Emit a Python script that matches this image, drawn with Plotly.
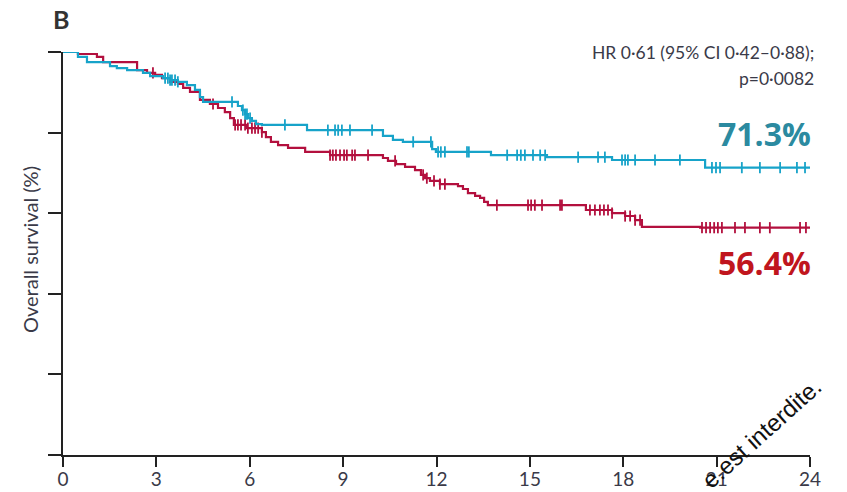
import plotly.graph_objects as go

# ---- data (months, overall survival %) ----
cyan_t = [0, 0.48, 0.77, 1.51, 1.73, 2.06, 2.57, 2.80, 3.21, 3.44, 3.69, 3.98, 4.24, 4.40, 4.50,
          5.62, 5.75, 5.85, 5.94, 6.07, 6.20, 6.39, 7.84, 10.28, 10.60, 10.92, 11.86, 11.98,
          13.75, 15.55, 17.64, 20.63, 24.0]
cyan_s = [100, 98.8, 97.5, 96.5, 96.0, 95.5, 94.8, 94.0, 93.5, 93.0, 92.6, 91.8, 90.6, 88.8, 87.6,
          86.6, 85.6, 84.6, 83.6, 82.9, 82.1, 81.9, 80.6, 79.2, 78.2, 77.7, 75.9, 75.2,
          74.4, 73.9, 73.2, 71.3, 71.3]

red_t = [0, 0.48, 1.09, 1.29, 2.38, 2.70, 2.96, 3.18, 3.44, 3.69, 3.86, 4.08, 4.40, 4.72, 4.98,
         5.20, 5.37, 5.49, 5.91, 6.39, 6.52, 6.68, 6.91, 7.23, 7.78, 8.58, 10.28, 10.44, 10.70,
         10.99, 11.31, 11.50, 11.63, 11.79, 12.11, 12.69, 12.85, 13.01, 13.24, 13.40, 13.53,
         13.65, 16.80, 17.64, 18.06, 18.38, 18.60, 20.47, 24.0]
red_s = [100, 99.5, 98.8, 97.5, 95.5, 94.8, 94.3, 93.5, 92.6, 92.1, 91.1, 90.1, 88.1, 87.1, 86.1,
         85.1, 83.6, 81.9, 81.1, 80.1, 78.9, 77.7, 76.9, 76.2, 75.2, 74.4, 73.7, 73.0, 72.2,
         71.5, 70.7, 69.5, 68.7, 68.0, 67.2, 66.7, 66.0, 65.0, 64.3, 63.8, 62.8,
         62.0, 60.8, 60.0, 59.3, 58.3, 56.6, 56.4, 56.4]

cyan_censor = [3.28, 3.37, 3.44, 3.50, 3.60, 3.69, 5.43, 5.78, 5.85, 5.91, 6.01, 7.13, 8.51, 8.74,
               8.84, 8.96, 9.22, 9.93, 11.25, 11.82, 12.05, 12.14, 12.27, 12.98, 13.04, 14.27,
               14.59, 14.71, 14.84, 15.10, 15.33, 15.49, 16.55, 17.19, 17.41, 17.96, 18.06,
               18.15, 18.38, 19.02, 19.82, 20.85, 20.98, 21.11, 21.81, 22.39, 23.04, 23.58, 23.84]
red_censor = [2.89, 4.82, 5.53, 5.62, 5.72, 5.85, 5.94, 6.07, 6.17, 6.27, 6.39, 8.58, 8.67, 8.77,
              8.90, 9.03, 9.12, 9.29, 9.38, 9.80, 10.67, 11.57, 11.69, 11.92, 12.11, 12.27,
              13.94, 14.94, 15.04, 15.16, 15.39, 15.97, 16.03, 16.93, 17.09, 17.25, 17.38,
              17.51, 17.64, 18.06, 18.22, 18.38, 18.54, 20.53, 20.66, 20.79, 20.92, 21.04,
              21.17, 21.59, 21.91, 22.39, 22.71, 23.68, 23.87]

x_ticks = [0, 3, 6, 9, 12, 15, 18, 21, 24]
y_ticks = [0, 20, 40, 60, 80, 100]

CYAN = "#17a3c9"
RED = "#b3103e"


def step_at(ts, ss, t):
    v = ss[0]
    for ti, si in zip(ts, ss):
        if ti <= t:
            v = si
        else:
            break
    return v


fig = go.Figure()
for ts, ss, cens, col in [(red_t, red_s, red_censor, RED), (cyan_t, cyan_s, cyan_censor, CYAN)]:
    fig.add_trace(go.Scatter(x=ts, y=ss, mode="lines", line=dict(color=col, width=2.2, shape="hv"),
                             cliponaxis=False, showlegend=False, hoverinfo="skip"))
    fig.add_trace(go.Scatter(x=cens, y=[step_at(ts, ss, c) for c in cens], mode="markers",
                             marker=dict(symbol="line-ns", size=8, line=dict(color=col, width=1.8)),
                             cliponaxis=False, showlegend=False, hoverinfo="skip"))

FONT = "Lato, Open Sans, sans-serif"
TXT = "#3a3a48"

fig.update_layout(
    width=847, height=492,
    margin=dict(l=63, r=37, t=52, b=37),
    paper_bgcolor="white", plot_bgcolor="white",
    font=dict(family=FONT, color=TXT, size=16),
    xaxis=dict(range=[0, 24], tickvals=x_ticks, ticktext=[str(v) for v in x_ticks],
               ticks="outside", ticklen=10, tickwidth=2, tickcolor="#222",
               showline=True, linecolor="#222", linewidth=2, showgrid=False, zeroline=False,
               automargin=False, ticklabelstandoff=-4,
               tickfont=dict(size=19, color=TXT, family=FONT)),
    yaxis=dict(range=[0, 100], tickvals=y_ticks, showticklabels=False,
               ticks="outside", ticklen=13, tickwidth=2, tickcolor="#222",
               showline=True, linecolor="#222", linewidth=2, showgrid=False, zeroline=False,
               automargin=False),
)

# x-axis line extension to left
fig.add_shape(type="line", xref="x domain", yref="y", x0=-0.018, x1=0, y0=0, y1=0,
              line=dict(color="#222", width=2))


def px(xp):
    return (xp - 63) / 747


def py(yp):
    return (455 - yp) / 403


fig.add_annotation(xref="paper", yref="paper", x=px(30), y=py(250), xanchor="center", yanchor="middle",
                   text="Overall survival (%)", showarrow=False, textangle=-90,
                   font=dict(size=20, color=TXT, family=FONT))
fig.add_annotation(xref="paper", yref="paper", x=px(51), y=py(19), xanchor="left", yanchor="middle",
                   text="<b>B</b>", showarrow=False, font=dict(size=25, color="#333", family=FONT))
fig.add_annotation(xref="paper", yref="paper", x=px(816), y=py(52), xanchor="right", yanchor="middle",
                   text="HR 0·61 (95% CI 0·42–0·88);", showarrow=False, font=dict(size=17.5, color=TXT, family=FONT))
fig.add_annotation(xref="paper", yref="paper", x=px(816), y=py(78), xanchor="right", yanchor="middle",
                   text="p=0·0082", showarrow=False, font=dict(size=17.5, color=TXT, family=FONT))
fig.add_annotation(xref="paper", yref="paper", x=px(813), y=py(133), xanchor="right", yanchor="middle",
                   text="<b>71.3%</b>", showarrow=False, font=dict(size=32, color="#2b8aa0", family="Open Sans"))
fig.add_annotation(xref="paper", yref="paper", x=px(813), y=py(262), xanchor="right", yanchor="middle",
                   text="<b>56.4%</b>", showarrow=False, font=dict(size=32, color="#c0151d", family="Open Sans"))
fig.add_annotation(xref="paper", yref="paper", x=px(761), y=py(433), xanchor="center", yanchor="middle",
                   text="e.est interdite.", showarrow=False, textangle=-42,
                   font=dict(size=24, color="#111", family="Liberation Sans"))

fig.write_html("out.html")
